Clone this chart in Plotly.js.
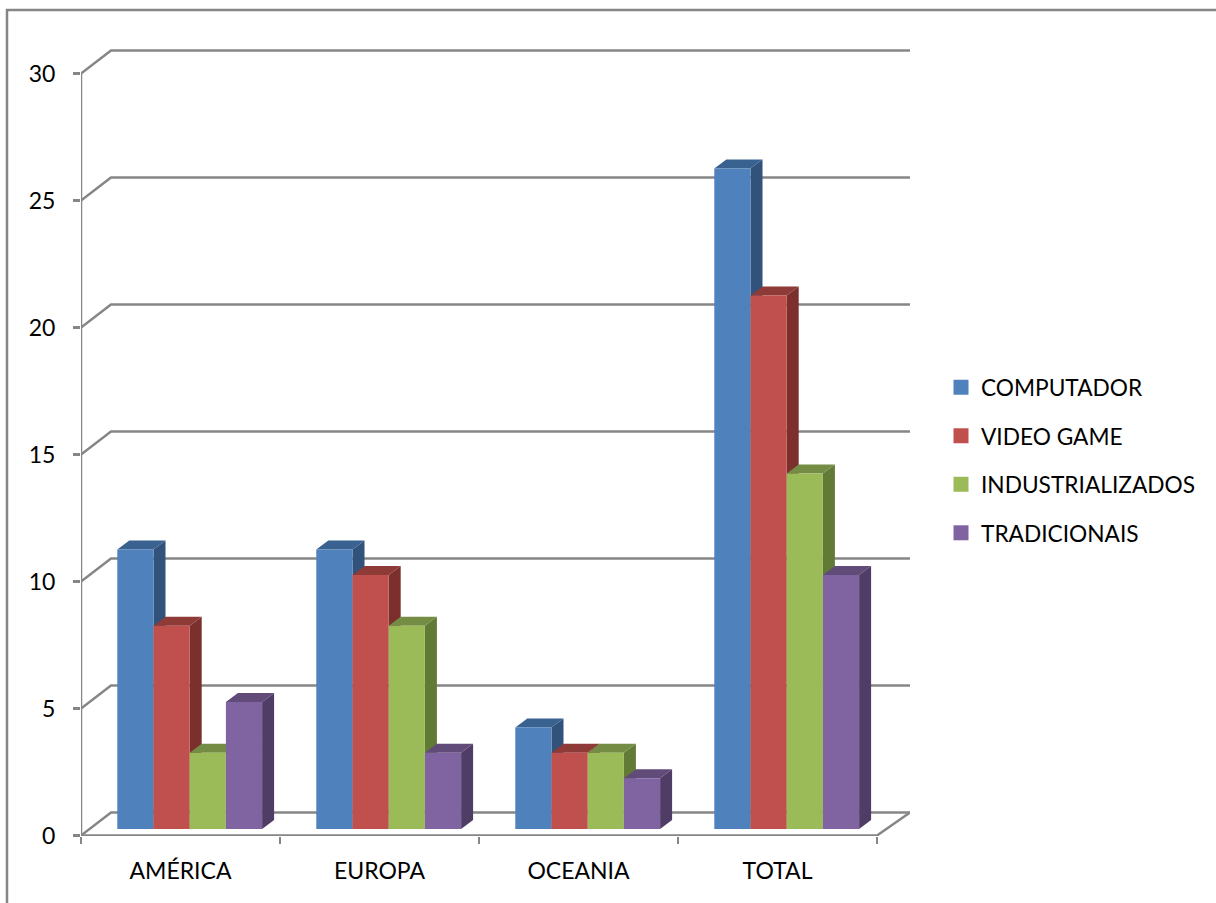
<!DOCTYPE html>
<html>
<head>
<meta charset="utf-8">
<script src="https://cdn.plot.ly/plotly-3.0.1.min.js"></script>
<style>html,body{margin:0;padding:0;background:#fff;overflow:hidden}</style>
</head>
<body>
<div id="chart" style="width:1216px;height:903px"></div>
<script>
// Categories and series
const categories = ["AMÉRICA", "EUROPA", "OCEANIA", "TOTAL"];
const seriesNames = ["COMPUTADOR", "VIDEO GAME", "INDUSTRIALIZADOS", "TRADICIONAIS"];
const computador = [11, 11, 4, 26];
const videoGame = [8, 10, 3, 21];
const industrializados = [3, 8, 3, 14];
const tradicionais = [5, 3, 2, 10];
const valueTicks = [0, 5, 10, 15, 20, 25, 30];

// Face colours per series
const frontColors = ["#4F81BD", "#C0504D", "#9BBB59", "#8064A2"];
const sideColors = ["#31527B", "#7B302E", "#617A36", "#503D66"];
const topColors = ["#3A6290", "#8E3A37", "#748C43", "#604B79"];

const seriesValues = [computador, videoGame, industrializados, tradicionais];

// Pixel scales of the plot frame
const catPx = 199, unitPx = 25.4;
const plotLeft = 81, plotRight = 910, plotTop = 45, plotBottom = 836;
const xRange = [0, (plotRight - plotLeft) / catPx];
const yFloor = 0.5 / unitPx;
const yRange = [-yFloor, (plotBottom - plotTop) / unitPx - yFloor];
const xPx = px => px / catPx, yPx = px => px / unitPx;

// Oblique projection constants
const wallDx = xPx(30), wallDy = yPx(23), wallEnd = 4 + xPx(33);
const barStart = xPx(36.3), barWidth = xPx(36.2);
const barBase = yPx(6.5), depthDx = xPx(12), depthDy = yPx(9);

const axisColor = "#868686";
const fontFamily = "Lato, 'Noto Sans', sans-serif";
const traces = [];

// Walls: gridlines on the back plane and their diagonals to the front axis
const gridX = [], gridY = [];
valueTicks.forEach(v => {
  gridX.push(0, wallDx, wallEnd, null);
  gridY.push(v, v + wallDy, v + wallDy, null);
});
traces.push({x: gridX, y: gridY, mode: "lines", line: {color: axisColor, width: 2.5}, showlegend: false, hoverinfo: "skip", cliponaxis: false});
traces.push({
  x: [0, 0, null, 0, 4, wallEnd],
  y: [valueTicks[valueTicks.length - 1], 0, null, 0, 0, wallDy],
  mode: "lines", line: {color: axisColor, width: 2.5}, showlegend: false, hoverinfo: "skip", cliponaxis: false
});

// Side and top faces, left to right so each bar overlaps its left neighbour
seriesValues.forEach((vals, s) => {
  const sx = [], sy = [], tx = [], ty = [];
  vals.forEach((v, c) => {
    const l = c + barStart + s * barWidth, r = l + barWidth, top = barBase + v;
    sx.push(r, r + depthDx, r + depthDx, r, r, null);
    sy.push(barBase, barBase + depthDy, top + depthDy, top, barBase, null);
    tx.push(l, r, r + depthDx, l + depthDx, l, null);
    ty.push(top, top, top + depthDy, top + depthDy, top, null);
  });
  traces.push({x: sx, y: sy, mode: "lines", fill: "toself", fillcolor: sideColors[s], line: {width: 0, color: sideColors[s]}, showlegend: false, hoverinfo: "skip", cliponaxis: false});
  traces.push({x: tx, y: ty, mode: "lines", fill: "toself", fillcolor: topColors[s], line: {width: 0, color: topColors[s]}, showlegend: false, hoverinfo: "skip", cliponaxis: false});
});

// Front faces in an overlaid subplot, above the sides and tops
seriesValues.forEach((vals, s) => {
  traces.push({
    type: "bar", xaxis: "x2", yaxis: "y2", name: seriesNames[s], showlegend: false,
    x: categories.map((_, c) => c + barStart + (s + 0.5) * barWidth),
    y: vals, base: barBase, width: barWidth,
    marker: {color: frontColors[s], line: {width: 0}}, cliponaxis: false
  });
});

// Legend entries with square swatches
seriesNames.forEach((name, s) => {
  traces.push({
    x: [null], y: [null], mode: "markers", name: name, legendgroup: name,
    marker: {symbol: "square", size: 15, color: frontColors[s]}, hoverinfo: "skip"
  });
});

const paperX = px => (px - plotLeft) / (plotRight - plotLeft);
const paperY = py => (plotBottom - py) / (plotBottom - plotTop);

const layout = {
  width: 1216, height: 903,
  margin: {l: plotLeft, r: 1216 - plotRight, t: plotTop, b: 903 - plotBottom, autoexpand: false},
  paper_bgcolor: "#fff", plot_bgcolor: "rgba(0,0,0,0)",
  font: {family: fontFamily, size: 23, color: "#000"},
  barmode: "overlay", hovermode: false,
  xaxis: {
    range: xRange, tickmode: "array", tickvals: [0, 1, 2, 3, 4], showticklabels: false,
    ticks: "outside", ticklen: 7, tickwidth: 2.5, tickcolor: axisColor,
    showgrid: false, zeroline: false, showline: false
  },
  yaxis: {
    range: yRange, tickmode: "array", tickvals: valueTicks,
    ticks: "outside", ticklen: 7, tickwidth: 2.5, tickcolor: axisColor, ticklabelstandoff: 13,
    showgrid: false, zeroline: false, showline: false
  },
  xaxis2: {
    overlaying: "x", anchor: "y2", range: xRange, tickmode: "array",
    tickvals: categories.map((_, c) => c + 0.5), ticktext: categories,
    ticks: "", ticklabelstandoff: 19, showgrid: false, zeroline: false, showline: false
  },
  yaxis2: {overlaying: "y", anchor: "x2", range: yRange, visible: false},
  legend: {
    x: paperX(941), y: paperY(366), xanchor: "left", yanchor: "top",
    traceorder: "grouped", tracegroupgap: 16, itemclick: false, itemdoubleclick: false,
    font: {family: fontFamily, size: 22.7, color: "#000"}, bgcolor: "rgba(0,0,0,0)"
  },
  shapes: [{
    type: "path", xref: "paper", yref: "paper", layer: "below",
    path: `M ${paperX(7)} ${paperY(903)} L ${paperX(7)} ${paperY(10)} L ${paperX(1216)} ${paperY(10)}`,
    line: {color: axisColor, width: 2.5}
  }]
};

Plotly.newPlot("chart", traces, layout, {displayModeBar: false, staticPlot: true});
</script>
</body>
</html>
